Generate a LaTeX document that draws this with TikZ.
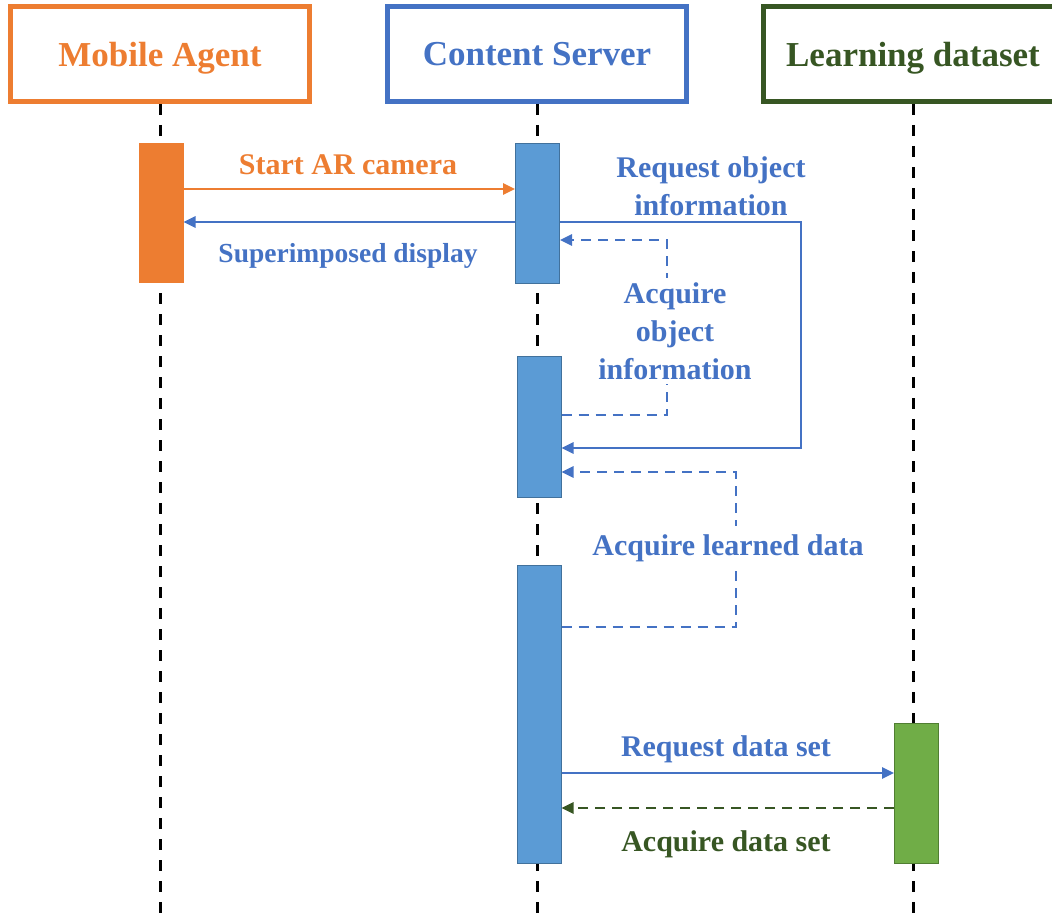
\documentclass[tikz,border=0pt]{standalone}
\usepackage{fontspec}
\setmainfont{Liberation Serif}
\usetikzlibrary{arrows.meta}
\definecolor{agentorange}{HTML}{ED7D31}
\definecolor{serverblue}{HTML}{4472C4}
\definecolor{barblue}{HTML}{5B9BD5}
\definecolor{barline}{HTML}{41719C}
\definecolor{datagreen}{HTML}{375623}
\definecolor{bargreen}{HTML}{70AD47}
\definecolor{barlinegreen}{HTML}{507E32}
\begin{document}
\begin{tikzpicture}[x=1pt, y=-1pt, >={Triangle[length=12pt,width=11pt]},
		head/.style={draw, line width=5pt, minimum width=299pt, minimum height=95pt, text depth=0pt, font=\fontsize{35}{40}\selectfont\bfseries},
		life/.style={line width=3pt, dash pattern=on 11pt off 10pt},
		actbar/.style={draw, line width=1pt, minimum width=44pt, inner sep=0pt, anchor=north},
		msg/.style={line width=2.6pt},
		dmsg/.style={line width=2.6pt, dash pattern=on 10pt off 7pt},
		lbl/.style={font=\fontsize{30}{38}\selectfont\bfseries, align=center, inner sep=4pt}]
				\useasboundingbox (0,0) rectangle (1052,915);
				\clip (0,0) rectangle (1052,915);
				% heads and lifelines
				\node[head, agentorange] (agent) at (160,54) {Mobile Agent};
				\node[head, serverblue] (server) at (537,54) {Content Server};
				\node[head, datagreen] (dataset) at (913,54) {Learning dataset};
				\draw[life] (agent.south) -- (agent.south |- 0,915);
				\draw[life] (server.south) -- (server.south |- 0,915);
				\draw[life] (dataset.south) -- (dataset.south |- 0,915);
				% activation bars
				\node[actbar, fill=agentorange, draw=agentorange, minimum height=139pt] (ma1) at (161,143) {};
				\node[actbar, fill=barblue, draw=barline, minimum height=140pt] (cs1) at (537.5,143) {};
				\node[actbar, fill=barblue, draw=barline, minimum height=141pt] (cs2) at (539,356) {};
				\node[actbar, fill=barblue, draw=barline, minimum height=298pt] (cs3) at (539,565) {};
				\node[actbar, fill=bargreen, draw=barlinegreen, minimum height=140pt] (ld1) at (916.5,723) {};
				% messages
				\draw[msg, agentorange, ->] (ma1.east |- 0,189) -- (cs1.west |- 0,189);
				\node[lbl, agentorange] (camera) at (348,165) {Start AR camera};
				\draw[msg, serverblue, ->] (cs1.west |- 0,222) -- (ma1.east |- 0,222);
				\node[lbl, serverblue, font=\fontsize{27.5}{36}\selectfont\bfseries] (display) at (348,256) {Superimposed display};
				\draw[msg, serverblue, ->] (cs1.east |- 0,222) -| (801,448) -- (cs2.east |- 0,448);
				\node[lbl, serverblue] (request) at (711,186) {Request object\\information};
				\draw[dmsg, serverblue, ->] (cs2.east |- 0,415) -| (667,240) -- (cs1.east |- 0,240);
				\node[lbl, serverblue, fill=white] (acquire) at (675,331) {Acquire\\object\\information};
				\draw[dmsg, serverblue, ->] (cs3.east |- 0,627) -| (736,472) -- (cs2.east |- 0,472);
				\node[lbl, serverblue, fill=white, inner sep=8pt] (learned) at (728,548) {Acquire learned data};
				\draw[msg, serverblue, ->] (cs3.east |- 0,773) -- (ld1.west |- 0,773);
				\node[lbl, serverblue] (reqset) at (726,749) {Request data set};
				\draw[dmsg, datagreen, ->] (ld1.west |- 0,808) -- (cs3.east |- 0,808);
				\node[lbl, datagreen] (getset) at (726,844) {Acquire data set};
			\end{tikzpicture}
\end{document}
